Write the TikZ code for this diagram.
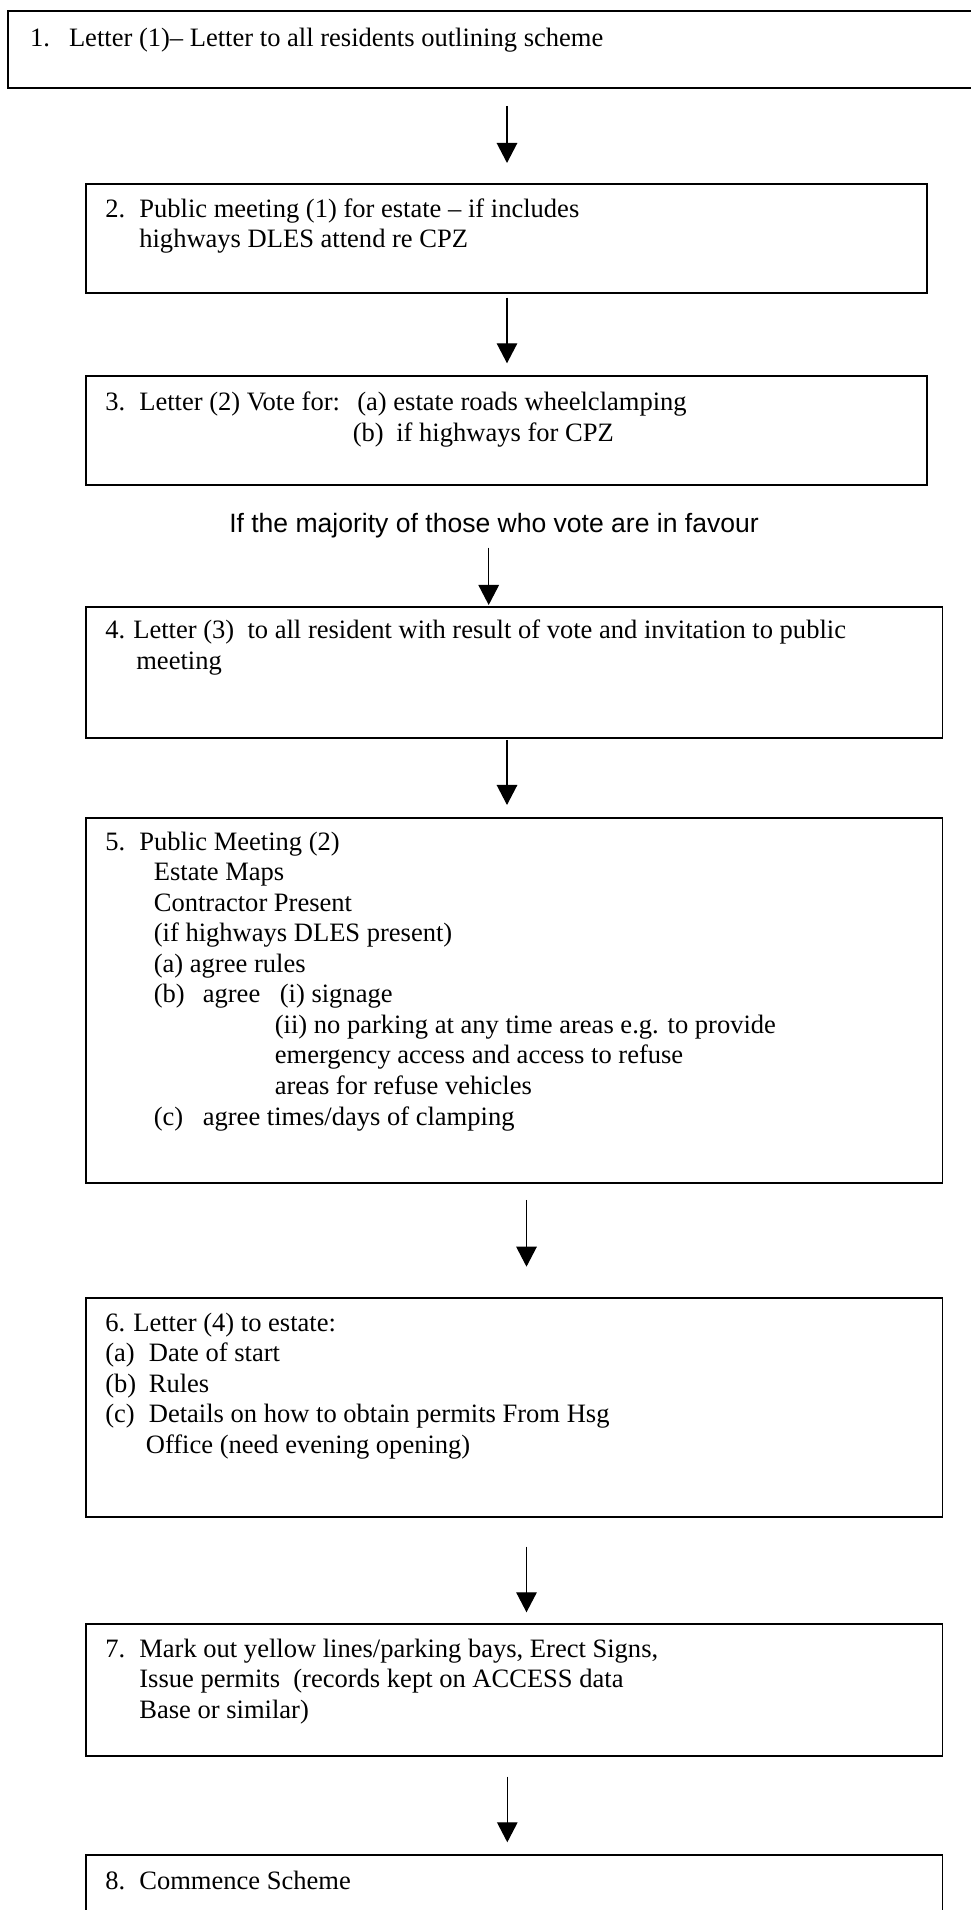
\documentclass[tikz,border=0pt]{standalone}
\usepackage{fontspec}
\setmainfont{Liberation Serif}
\newfontfamily\condfont{Liberation Sans}
\usetikzlibrary{arrows.meta, positioning}

% fixed-width slot for list labels
\newcommand{\tabat}[2]{\makebox[#1][l]{#2}}

\begin{document}
\begin{tikzpicture}[>={Triangle[length=0.4cm, width=0.41cm]}]

\tikzset{
  stepbox/.style={draw, line width=1.1pt, inner sep=0pt, anchor=north west,
    minimum width=17.13cm},
  steptext/.style={inner sep=0pt, align=left, anchor=north west,
    font=\fontsize{15.1}{17.36}\selectfont, execute at begin node=\strut},
  flow/.style={->, line width=0.75pt}
}

% Page
\useasboundingbox (0,0) rectangle (19.4,38.2);

% Boxes (1 px = 0.02 cm)
\node[stepbox, minimum width=19.65cm, minimum height=1.536cm] (box1) at (0.148,37.99) {};
\node[stepbox, minimum width=16.82cm, minimum height=2.192cm] (box2) at (1.7,34.546) {};
\node[stepbox, minimum width=16.82cm, minimum height=2.186cm] (box3) at (1.7,30.7) {};
\node[stepbox, minimum height=2.632cm] (box4) at (1.7,26.086) {};
\node[stepbox, minimum height=7.312cm] (box5) at (1.7,21.866) {};
\node[stepbox, minimum height=4.374cm] (box6) at (1.7,12.254) {};
\node[stepbox, minimum height=2.634cm] (box7) at (1.7,5.734) {};
\node[stepbox, minimum height=1.42cm] (box8) at (1.7,1.12) {};

% Texts
\node[steptext, below right=0.28cm and 0.446cm of box1.north west] (txt1)
  {\tabat{0.78cm}{1.}Letter (1)– Letter to all residents outlining scheme};

\node[steptext, below right=0.31cm and 0.4cm of box2.north west] (txt2)
  {\tabat{0.68cm}{2.}Public meeting (1) for estate – if includes\\
   \hspace*{0.68cm}highways DLES attend re CPZ};

\node[steptext, below right=0.33cm and 0.4cm of box3.north west] (txt3)
  {\tabat{0.68cm}{3.}\tabat{4.36cm}{Letter (2) Vote for:}(a) estate roads wheelclamping\\
   \hspace*{4.95cm}\tabat{0.87cm}{(b)}if highways for CPZ};

\node[font=\condfont\fontsize{15.1}{17.36}\selectfont, anchor=base] (cond) at (9.88,27.54)
  {If the majority of those who vote are in favour};

\node[steptext, below right=0.28cm and 0.4cm of box4.north west] (txt4)
  {\tabat{0.56cm}{4.}Letter (3)\ \ to all resident with result of vote and invitation to public\\
   \hspace*{0.62cm}meeting};

\node[steptext, below right=0.3cm and 0.4cm of box5.north west] (txt5)
  {\tabat{0.68cm}{5.}Public Meeting (2)\\
   \hspace*{0.97cm}Estate Maps\\
   \hspace*{0.97cm}Contractor Present\\
   \hspace*{0.97cm}(if highways DLES present)\\
   \hspace*{0.97cm}(a) agree rules\\
   \hspace*{0.97cm}\tabat{0.98cm}{(b)}\tabat{1.54cm}{agree}(i) signage\\
   \hspace*{3.39cm}(ii) no parking at any time areas e.g. to provide\\
   \hspace*{3.39cm}emergency access and access to refuse\\
   \hspace*{3.39cm}areas for refuse vehicles\\
   \hspace*{0.97cm}\tabat{0.98cm}{(c)}agree times/days of clamping};

\node[steptext, below right=0.3cm and 0.4cm of box6.north west] (txt6)
  {\tabat{0.56cm}{6.}Letter (4) to estate:\\
   \tabat{0.87cm}{(a)}Date of start\\
   \tabat{0.87cm}{(b)}Rules\\
   \tabat{0.87cm}{(c)}Details on how to obtain permits From Hsg\\
   \hspace*{0.81cm}Office (need evening opening)};

\node[steptext, below right=0.3cm and 0.4cm of box7.north west] (txt7)
  {\tabat{0.68cm}{7.}Mark out yellow lines/parking bays, Erect Signs,\\
   \hspace*{0.68cm}Issue permits\ \ (records kept on ACCESS data\\
   \hspace*{0.68cm}Base or similar)};

\node[steptext, below right=0.28cm and 0.4cm of box8.north west] (txt8)
  {\tabat{0.68cm}{8.}Commence Scheme};

% Arrow ends
\coordinate (a1s) at (10.14,36.08);  \coordinate (a1e) at (10.14,34.94);
\coordinate (a2s) at (10.14,32.246); \coordinate (a2e) at (10.14,30.934);
\coordinate (a3s) at (9.774,27.246); \coordinate (a3e) at (9.774,26.1);
\coordinate (a4s) at (10.14,23.4);   \coordinate (a4e) at (10.14,22.1);
\coordinate (a5s) at (10.53,14.2);   \coordinate (a5e) at (10.53,12.866);
\coordinate (a6s) at (10.53,7.266);  \coordinate (a6e) at (10.53,5.954);
\coordinate (a7s) at (10.146,2.666); \coordinate (a7e) at (10.146,1.354);

% Arrows
\foreach \i in {1,...,7}
  \draw[flow] (a\i s) -- (a\i e);

\end{tikzpicture}
\end{document}
